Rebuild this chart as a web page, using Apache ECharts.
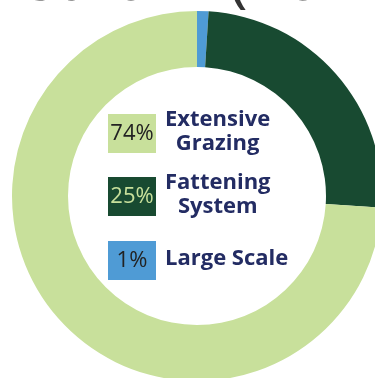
<!DOCTYPE html>
<html>
<head>
<meta charset="utf-8">
<script src="https://cdn.jsdelivr.net/npm/echarts@6/dist/echarts.min.js"></script>
<style>
  html, body { margin: 0; padding: 0; background: #fff; }
  #chart { width: 375px; height: 378px; }
</style>
</head>
<body>
<div id="chart"></div>
<script>
// slices in clockwise order from 12 o'clock
var names = ["Large Scale", "Fattening\nSystem", "Extensive\nGrazing"];
var values = [1, 25, 74];
var colors = ["#4f9bd5", "#184a31", "#c8e09b"];
var pctColors = ["#222222", "#c8e09b", "#222222"];
// legend listing order (top to bottom)
var legendOrder = [2, 1, 0];

var dom = document.getElementById("chart");
var myChart = echarts.init(dom);

var labelFont = "bold 22px 'Open Sans'";
var ctx = document.createElement("canvas").getContext("2d");
ctx.font = labelFont;

var boxX = 108, boxW = 48, boxH = 39;
var boxTops = [114, 177, 241];
var labelLeft = 165;

var graphics = [
  {
    // title, mostly cropped off the top
    type: "text",
    x: -35,
    y: -18,
    style: {
      text: "Vietnam (2014)",
      font: "64px 'Open Sans'",
      fill: "#333333",
      align: "left",
      verticalAlign: "middle"
    }
  }
];

legendOrder.forEach(function (idx, i) {
  var y = boxTops[i];
  var firstLine = names[idx].split("\n")[0];
  var w = ctx.measureText(firstLine).width;
  graphics.push({
    type: "rect",
    shape: { x: boxX, y: y, width: boxW, height: boxH },
    style: { fill: colors[idx] }
  });
  graphics.push({
    type: "text",
    x: boxX + boxW / 2,
    y: y + boxH / 2,
    style: {
      text: values[idx] + "%",
      font: "22px 'Open Sans'",
      fill: pctColors[idx],
      align: "center",
      verticalAlign: "middle"
    }
  });
  graphics.push({
    type: "text",
    x: labelLeft + w / 2,
    y: y + boxH / 2 - 2,
    style: {
      text: names[idx],
      font: labelFont,
      lineHeight: 24,
      fill: "#232c63",
      align: "center",
      verticalAlign: "middle"
    }
  });
});

var option = {
  animation: false,
  graphic: graphics,
  series: [
    {
      type: "pie",
      center: [197, 196],
      radius: [129, 185],
      startAngle: 90,
      clockwise: true,
      silent: true,
      label: { show: false },
      labelLine: { show: false },
      itemStyle: { borderWidth: 0 },
      data: names.map(function (n, i) {
        return { name: n, value: values[i], itemStyle: { color: colors[i] } };
      })
    }
  ]
};
myChart.setOption(option);
</script>
</body>
</html>
